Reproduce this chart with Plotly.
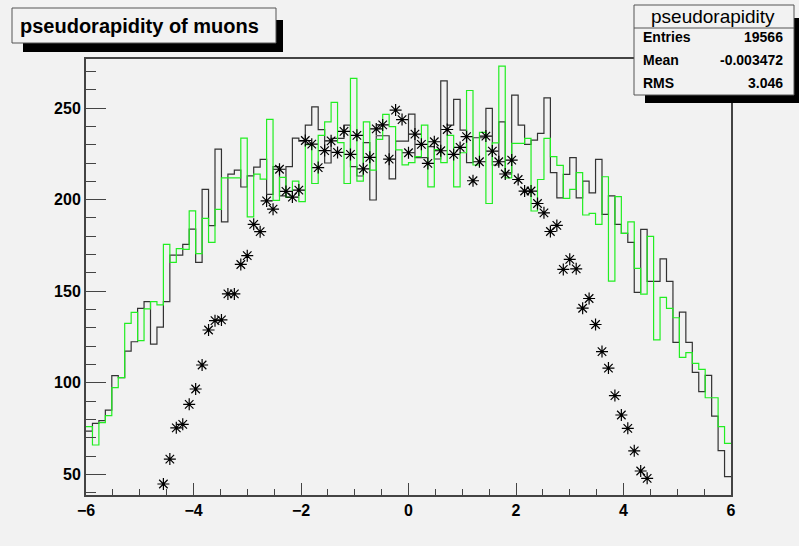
import numpy as np
import plotly.graph_objects as go

# 100 bins of 0.12 between eta = -6 and 6
eta_min, eta_max, n_bins = -6.0, 6.0, 100

black_counts = [
    73.6, 77.8, 79.3, 85.1, 103.9, 102.8, 117.3, 122.4, 140.6, 144.3,
    121.1, 130.4, 144.3, 169.7, 169.7, 175.6, 183.9, 165.7, 205.6, 185.8,
    227.6, 187.9, 213.9, 216.1, 206.9, 213.0, 217.8, 222.0, 202.9, 218.0,
    202.0, 218.0, 233.6, 232.0, 240.7, 250.7, 238.2, 220.0, 233.5, 233.5,
    240.7, 218.0, 212.9, 231.1, 199.8, 234.9, 234.9, 211.3, 232.0, 232.0,
    246.7, 222.9, 222.9, 228.9, 222.2, 264.9, 240.7, 254.7, 238.0, 220.2,
    233.8, 233.8, 249.8, 218.9, 242.5, 214.7, 257.1, 240.7, 230.2, 232.5,
    236.2, 255.6, 214.7, 201.0, 213.8, 222.9, 201.0, 210.1, 203.7, 222.0,
    192.0, 202.0, 186.5, 181.6, 176.7, 149.4, 183.8, 155.4, 155.4, 167.7,
    155.4, 122.0, 138.6, 122.0, 105.7, 95.1, 104.0, 81.8, 62.9, 48.7,
]

green_counts = [
    76.0, 66.0, 78.2, 82.0, 97.3, 102.8, 132.4, 138.4, 123.0, 140.3,
    144.3, 142.5, 175.6, 165.7, 173.3, 172.8, 193.9, 170.5, 189.8, 176.7,
    194.7, 211.9, 211.9, 211.9, 233.6, 190.6, 213.9, 211.2, 243.8, 199.6,
    212.2, 201.2, 210.1, 198.9, 230.0, 208.8, 235.1, 242.5, 253.1, 231.1,
    208.8, 266.2, 210.1, 242.5, 216.1, 232.9, 246.6, 239.9, 227.2, 219.0,
    220.2, 223.5, 240.7, 207.0, 227.3, 220.2, 235.1, 207.0, 225.6, 259.6,
    218.9, 236.7, 197.9, 231.0, 272.9, 211.9, 230.7, 230.7, 233.5, 193.8,
    211.0, 233.5, 223.5, 218.7, 200.7, 205.6, 214.7, 191.6, 192.5, 186.5,
    212.5, 155.5, 201.6, 181.6, 187.9, 162.5, 148.4, 179.9, 123.4, 146.6,
    140.6, 135.5, 113.9, 116.4, 110.6, 107.3, 91.8, 91.8, 76.0, 66.9,
]

# points sit on the bin edges 12 .. 87
star_first_edge = 12
star_counts = [
    44.7, 58.3, 75.4, 77.3, 88.2, 96.6, 109.7, 128.8, 133.9, 134.3,
    148.5, 148.5, 164.6, 169.4, 186.5, 182.5, 199.3, 194.8, 216.6, 204.5,
    201.4, 205.2, 232.3, 230.3, 217.5, 226.8, 232.1, 225.8, 237.3, 224.7,
    235.1, 216.8, 223.1, 238.6, 240.8, 222.1, 248.9, 243.7, 225.6, 235.8,
    230.2, 219.8, 231.6, 226.7, 238.3, 224.7, 228.5, 234.4, 210.3, 220.7,
    234.7, 226.5, 220.7, 214.0, 221.6, 211.0, 204.7, 204.7, 197.9, 192.8,
    182.6, 185.9, 161.9, 167.4, 162.2, 140.7, 146.0, 131.8, 117.0, 108.0,
    93.0, 82.4, 75.1, 62.8, 51.8, 47.8,
]

x_tickvals = [-6, -4, -2, 0, 2, 4, 6]
y_tickvals = [50, 100, 150, 200, 250]

stat_title = "pseudorapidity"
stat_names = ["Entries", "Mean", "RMS"]
stat_values = ["19566", "-0.003472", "3.046"]
plot_title = "pseudorapidity of muons"

edges = np.linspace(eta_min, eta_max, n_bins + 1)
star_x = edges[star_first_edge:star_first_edge + len(star_counts)]

BG = "#f2f2f2"
FONT = "Liberation Sans"

fig = go.Figure()


def step_trace(counts, color):
    ys = list(counts) + [counts[-1]]
    return go.Scatter(x=edges, y=ys, mode="lines", line_shape="hv",
                      line=dict(color=color, width=1.2), hoverinfo="skip",
                      showlegend=False)


fig.add_trace(step_trace(black_counts, "#333333"))
fig.add_trace(step_trace(green_counts, "#22ee22"))
fig.add_trace(go.Scatter(
    x=star_x, y=star_counts, mode="markers", showlegend=False,
    marker=dict(symbol="asterisk-open", size=10, color="black",
                line=dict(color="black", width=1.2)),
))

# frame geometry in pixels
W, H = 799, 546
L, R, T, B = 86, 731, 59, 495


def px(xp):
    return (xp - L) / (R - L)


def py(yp):
    return (B - yp) / (B - T)


shapes = []
annotations = []


def box(x0, y0, x1, y1, shadow):
    sx0, sy0, sx1, sy1 = shadow
    shapes.append(dict(type="rect", xref="paper", yref="paper",
                       x0=px(sx0), x1=px(sx1), y0=py(sy1), y1=py(sy0),
                       fillcolor="black", line=dict(width=0), layer="above"))
    shapes.append(dict(type="rect", xref="paper", yref="paper",
                       x0=px(x0), x1=px(x1), y0=py(y1), y1=py(y0),
                       fillcolor=BG, line=dict(color="#555555", width=1),
                       layer="above"))


def text(s, xp, yp, size, anchor="left", bold=True):
    annotations.append(dict(
        text=s, xref="paper", yref="paper", x=px(xp), y=py(yp),
        xanchor=anchor, yanchor="middle", showarrow=False,
        font=dict(family=FONT, size=size, color="black",
                  weight="bold" if bold else "normal"),
    ))


# title box
box(12, 8, 276, 43, (23, 20, 283, 52))
text(plot_title, 18, 26, 20, bold=True)

# statistics box
box(634, 5, 794, 95, (645, 18, 805, 103))
shapes.append(dict(type="line", xref="paper", yref="paper",
                   x0=px(634), x1=px(794), y0=py(28), y1=py(28),
                   line=dict(color="#555555", width=1), layer="above"))
text(stat_title, 713, 16, 19, anchor="center", bold=False)
for i, (name, val) in enumerate(zip(stat_names, stat_values)):
    yy = 37 + i * 23
    text(name, 641, yy, 14)
    text(val, 785, yy, 14, anchor="right")

fig.update_layout(
    width=W, height=H,
    margin=dict(l=L, r=W - R, t=T, b=H - B),
    paper_bgcolor=BG, plot_bgcolor=BG,
    shapes=shapes, annotations=annotations,
    xaxis=dict(
        range=[eta_min, eta_max], tickvals=x_tickvals,
        ticks="inside", ticklen=12, tickwidth=1, tickcolor="#444444",
        minor=dict(dtick=0.5, ticks="inside", ticklen=6, tickcolor="#444444"),
        showgrid=False, zeroline=False, showline=True, mirror=True,
        linecolor="#444444", linewidth=2,
        tickfont=dict(family=FONT, size=16, color="black", weight="bold"),
    ),
    yaxis=dict(
        range=[38.7, 276.8], tickvals=y_tickvals,
        ticks="inside", ticklen=20, tickwidth=1, tickcolor="#444444",
        minor=dict(dtick=10, ticks="inside", ticklen=10, tickcolor="#444444"),
        showgrid=False, zeroline=False, showline=True, mirror=True,
        linecolor="#444444", linewidth=2,
        tickfont=dict(family=FONT, size=16, color="black", weight="bold"),
    ),
)

fig.write_html("out.html")
